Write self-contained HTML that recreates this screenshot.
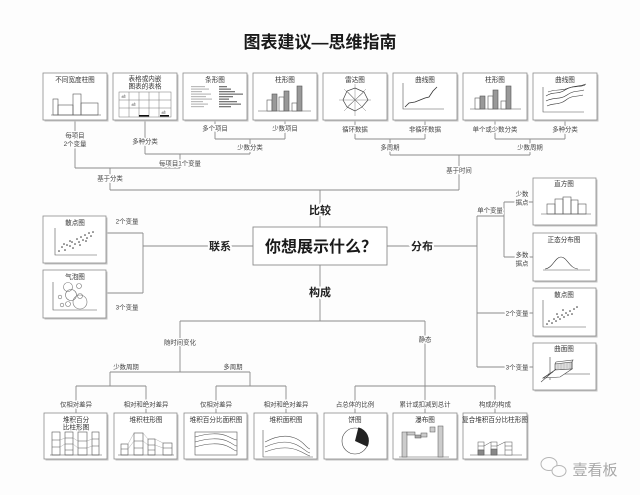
<!DOCTYPE html>
<html><head><meta charset="utf-8"><style>
html,body{margin:0;padding:0;background:#fdfdfd;}
svg{display:block;}
text{font-family:"Liberation Sans","Noto Sans CJK SC",sans-serif;}
.t{font-size:6.6px;fill:#333;text-anchor:middle;}
.l{font-size:6.4px;fill:#444;text-anchor:middle;paint-order:stroke;stroke:#fdfdfd;stroke-width:3px;stroke-linejoin:round;}
.c{font-size:11px;font-weight:bold;fill:#222;text-anchor:middle;paint-order:stroke;stroke:#fdfdfd;stroke-width:4px;}
.ln{stroke:#8a8a8a;stroke-width:0.9;fill:none;}
.ch{stroke:#555;stroke-width:0.6;fill:none;}
.bx{fill:#fff;stroke:#8c8c8c;stroke-width:0.8;}
.sh{fill:#c4c4c4;}
</style></head><body>
<svg width="640" height="495" viewBox="0 0 640 495" xmlns="http://www.w3.org/2000/svg">
<rect width="640" height="495" fill="#fdfdfd"/>
<text x="320" y="48" text-anchor="middle" style="font-size:17px;font-weight:bold;fill:#1a1a1a;">图表建议—思维指南</text>

<!-- ===== connector lines ===== -->
<g class="ln">
<!-- top left tree -->
<path d="M75,120V168 M145,120V154 M215,120V139 M285,120V139 M215,139H285 M250,139V154 M145,154H250 M180,154V168 M75,168H180 M110,168V190 M110,190H459"/>
<!-- top right tree -->
<path d="M355,120V139 M425,120V139 M355,139H425 M390,139V155 M495,120V139 M565,120V139 M495,139H565 M530,139V155 M390,155H530 M459,155V190"/>
<!-- center -->
<path d="M320,190V227 M143,246H253 M143,233V293 M106,233H143 M106,293H143 M387,246H477 M477,216V367 M477,216H504 M504,202V257 M504,202H533 M504,257H533 M477,313H533 M477,367H533"/>
<!-- bottom -->
<path d="M320,265V321 M180,321H425 M180,321V372 M425,321V386 M110,372H250 M110,372V386 M250,372V386 M76,386H146 M216,386H286 M76,386V413 M146,386V413 M216,386V413 M286,386V413 M355,386H495 M355,386V413 M425,386V413 M495,386V413"/>
</g>

<!-- ===== top boxes ===== -->
<g>
<rect class="sh" x="44.5" y="74.5" width="64" height="47"/><rect class="bx" x="43" y="73" width="64" height="47"/>
<rect class="sh" x="114.5" y="74.5" width="64" height="47"/><rect class="bx" x="113" y="73" width="64" height="47"/>
<rect class="sh" x="184.5" y="74.5" width="64" height="47"/><rect class="bx" x="183" y="73" width="64" height="47"/>
<rect class="sh" x="254.5" y="74.5" width="64" height="47"/><rect class="bx" x="253" y="73" width="64" height="47"/>
<rect class="sh" x="324.5" y="74.5" width="64" height="47"/><rect class="bx" x="323" y="73" width="64" height="47"/>
<rect class="sh" x="394.5" y="74.5" width="64" height="47"/><rect class="bx" x="393" y="73" width="64" height="47"/>
<rect class="sh" x="464.5" y="74.5" width="64" height="47"/><rect class="bx" x="463" y="73" width="64" height="47"/>
<rect class="sh" x="534.5" y="74.5" width="64" height="47"/><rect class="bx" x="533" y="73" width="64" height="47"/>
</g>
<text class="t" x="75" y="82">不同宽度柱图</text>
<text class="t" x="145" y="81">表格或内嵌</text><text class="t" x="145" y="88.5">图表的表格</text>
<text class="t" x="215" y="82">条形图</text>
<text class="t" x="285" y="82">柱形图</text>
<text class="t" x="355" y="82">雷达图</text>
<text class="t" x="425" y="82">曲线图</text>
<text class="t" x="495" y="82">柱形图</text>
<text class="t" x="565" y="82">曲线图</text>

<!-- box1 variable width -->
<g class="ch"><path d="M51,115H101"/><rect x="53" y="99" width="5" height="16"/><rect x="58" y="105" width="15" height="10"/><rect x="73" y="94" width="8" height="21"/><rect x="81" y="103" width="17" height="12"/></g>
<!-- box2 table -->
<g class="ch" style="stroke:#777;stroke-width:0.5">
<rect x="119" y="92" width="52" height="25"/>
<path d="M129,92V117 M139,92V117 M149,92V117 M159,92V117 M119,100H171 M119,108H171"/>
<path d="M122,98V96H123V98 M124,98V95H125V98 M132,106V104H133V106 M134,106V103H135V106 M162,114V112H163V114 M164,114V111H165V114"/>
</g>
<rect x="139" y="115" width="10" height="1.6" fill="#111"/><rect x="160" y="115" width="9" height="1.6" fill="#111"/>
<!-- box3 bar -->
<g fill="#bbb">
<rect x="191" y="86" width="14" height="1.2"/><rect x="191" y="88.5" width="18" height="1.2"/><rect x="191" y="91" width="11" height="1.2"/><rect x="191" y="93.5" width="20" height="1.2"/><rect x="191" y="96" width="15" height="1.2"/><rect x="191" y="98.5" width="21" height="1.2"/><rect x="191" y="101" width="12" height="1.2"/><rect x="191" y="103.5" width="17" height="1.2"/><rect x="191" y="106" width="13" height="1.2"/>
</g>
<g fill="#777">
<rect x="219" y="86" width="8" height="1.3"/><rect x="219" y="88.5" width="12" height="1.3"/><rect x="219" y="91" width="16" height="1.3"/><rect x="219" y="93.5" width="24" height="1.3"/><rect x="219" y="96" width="14" height="1.3"/><rect x="219" y="98.5" width="10" height="1.3"/><rect x="219" y="101" width="18" height="1.3"/><rect x="219" y="103.5" width="22" height="1.3"/><rect x="219" y="106" width="12" height="1.3"/>
</g>
<!-- box4 column -->
<g class="ch"><path d="M258,111H311"/>
<rect x="267" y="100" width="5" height="11" fill="#fff"/><rect x="272" y="94" width="5" height="17" fill="#999"/>
<rect x="279" y="97" width="5" height="14" fill="#fff"/><rect x="284" y="91" width="5" height="20" fill="#999"/>
<rect x="292" y="103" width="5" height="8" fill="#fff"/><rect x="297" y="86" width="5" height="25" fill="#999"/></g>
<!-- box5 radar -->
<g class="ch" style="stroke:#888;stroke-width:0.5"><path d="M355,84V116 M339,100H371 M344,89L366,111 M366,89L344,111"/></g>
<polygon class="ch" points="355,88 364,92 368,100 362,107 355,111 347,107 343,100 347,91" style="stroke:#444;stroke-width:0.7"/>
<path class="ch" d="M347,91L362,107 M364,92L347,107" style="stroke:#666;stroke-width:0.5"/>
<!-- box6 line -->
<g class="ch"><path d="M403,83V109H444"/><path d="M405,107L409,103L415,102L420,100L425,98L429,97L433,91L437,87" style="stroke:#333;stroke-width:0.8"/></g>
<!-- box7 column -->
<g class="ch"><path d="M470,109H521"/>
<rect x="475" y="98" width="5" height="11" fill="#fff"/><rect x="480" y="96" width="5" height="13" fill="#999"/>
<rect x="488" y="96" width="5" height="13" fill="#fff"/><rect x="493" y="90" width="5" height="19" fill="#999"/>
<rect x="501" y="101" width="5" height="8" fill="#fff"/><rect x="506" y="86" width="5" height="23" fill="#999"/></g>
<!-- box8 multi line -->
<g class="ch"><path d="M543,87V112H584"/>
<path d="M546,96C553,91 558,95 565,90S578,88 585,85" style="stroke:#333"/>
<path d="M546,101C553,97 560,100 567,95S578,92 584,90" style="stroke:#333"/>
<path d="M547,106C553,103 560,105 566,100S577,97 583,95" style="stroke:#333"/>
<path d="M548,92C555,89 562,91 569,88S579,87 586,84" style="stroke:#333"/></g>

<!-- top labels -->
<text class="l" x="75" y="137.5">每项目</text><text class="l" x="75" y="146">2个变量</text>
<text class="l" x="145" y="143.5">多种分类</text>
<text class="l" x="215" y="130.5">多个项目</text>
<text class="l" x="285" y="130.5">少数项目</text>
<text class="l" x="250" y="149.5">少数分类</text>
<text class="l" x="180" y="165.5">每项目1个变量</text>
<text class="l" x="110" y="180.5">基于分类</text>
<text class="l" x="355" y="131.5">循环数据</text>
<text class="l" x="425" y="131.5">非循环数据</text>
<text class="l" x="390" y="149.5">多周期</text>
<text class="l" x="495" y="131.5">单个或少数分类</text>
<text class="l" x="565" y="131.5">多种分类</text>
<text class="l" x="530" y="149.5">少数周期</text>
<text class="l" x="459" y="172.5">基于时间</text>

<!-- center -->
<rect x="253" y="227" width="134" height="38" fill="#fff" stroke="#8c8c8c" stroke-width="0.9"/>
<text x="321" y="252" text-anchor="middle" style="font-size:16px;font-weight:bold;fill:#1a1a1a;">你想展示什么？</text>
<text class="c" x="320" y="214">比较</text>
<text class="c" x="220" y="250">联系</text>
<text class="c" x="422" y="250">分布</text>
<text class="c" x="320" y="296">构成</text>

<!-- left boxes -->
<rect class="sh" x="44.5" y="217.5" width="63" height="47"/><rect class="bx" x="43" y="216" width="63" height="47"/>
<rect class="sh" x="44.5" y="271.5" width="63" height="48"/><rect class="bx" x="43" y="270" width="63" height="48"/>
<text class="t" x="75" y="225">散点图</text>
<text class="t" x="75" y="279">气泡图</text>
<g class="ch"><path d="M55,228V255H97"/><path d="M53,282V310H97"/></g>
<g fill="#333">
<circle cx="59" cy="251" r="0.8"/><circle cx="62" cy="247" r="0.8"/><circle cx="65" cy="250" r="0.8"/><circle cx="67" cy="245" r="0.8"/><circle cx="70" cy="246" r="0.8"/><circle cx="72" cy="242" r="0.8"/><circle cx="75" cy="244" r="0.8"/><circle cx="77" cy="239" r="0.8"/><circle cx="79" cy="242" r="0.8"/><circle cx="81" cy="237" r="0.8"/><circle cx="83" cy="240" r="0.8"/><circle cx="85" cy="235" r="0.8"/><circle cx="87" cy="238" r="0.8"/><circle cx="89" cy="233" r="0.8"/><circle cx="91" cy="236" r="0.8"/><circle cx="64" cy="244" r="0.8"/><circle cx="73" cy="248" r="0.8"/><circle cx="80" cy="245" r="0.8"/><circle cx="86" cy="241" r="0.8"/><circle cx="93" cy="232" r="0.8"/><circle cx="70" cy="241" r="0.8"/>
</g>
<g class="ch" style="stroke:#777;stroke-width:0.6">
<circle cx="68" cy="287" r="4.5"/><circle cx="79" cy="286" r="2.5"/><circle cx="71" cy="295" r="5.5"/><circle cx="80" cy="296" r="2.5"/><circle cx="60" cy="297" r="1.8"/><circle cx="68" cy="304" r="2.5"/><circle cx="62" cy="305" r="1.8"/><circle cx="80" cy="302" r="7"/>
</g>
<text class="l" x="127" y="223.5">2个变量</text>
<text class="l" x="127" y="309.5">3个变量</text>

<!-- right boxes -->
<rect class="sh" x="534.5" y="179.5" width="63" height="47"/><rect class="bx" x="533" y="178" width="63" height="47"/>
<rect class="sh" x="534.5" y="234.5" width="63" height="48"/><rect class="bx" x="533" y="233" width="63" height="48"/>
<rect class="sh" x="534.5" y="289.5" width="63" height="48"/><rect class="bx" x="533" y="288" width="63" height="48"/>
<rect class="sh" x="534.5" y="344.5" width="63" height="47"/><rect class="bx" x="533" y="343" width="63" height="47"/>
<text class="t" x="564" y="186">直方图</text>
<text class="t" x="564" y="242">正态分布图</text>
<text class="t" x="564" y="297">散点图</text>
<text class="t" x="564" y="351">曲面图</text>
<g class="ch"><path d="M541,214H591"/>
<rect x="547" y="204" width="8" height="10"/><rect x="555" y="199" width="8" height="15"/><rect x="563" y="197" width="8" height="17"/><rect x="571" y="200" width="7" height="14"/><rect x="578" y="204" width="8" height="10"/>
<path d="M543,270H590"/><path d="M545,269C553,268 555,257 561,257S569,268 578,269" style="stroke:#333"/>
<path d="M543,300V327H586"/></g>
<g fill="#333">
<circle cx="547" cy="324" r="0.8"/><circle cx="549" cy="321" r="0.8"/><circle cx="552" cy="323" r="0.8"/><circle cx="554" cy="319" r="0.8"/><circle cx="556" cy="321" r="0.8"/><circle cx="558" cy="317" r="0.8"/><circle cx="560" cy="319" r="0.8"/><circle cx="562" cy="315" r="0.8"/><circle cx="564" cy="317" r="0.8"/><circle cx="566" cy="313" r="0.8"/><circle cx="568" cy="315" r="0.8"/><circle cx="570" cy="311" r="0.8"/><circle cx="572" cy="314" r="0.8"/><circle cx="574" cy="309" r="0.8"/><circle cx="577" cy="307" r="0.8"/><circle cx="563" cy="310" r="0.8"/><circle cx="557" cy="314" r="0.8"/>
</g>
<!-- surface -->
<g class="ch" style="stroke:#444;stroke-width:0.6">
<path d="M550,357V380"/><path d="M548,374H590"/>
<polygon points="555,364 572,362 572,369 555,370" fill="#ddd"/>
<path d="M555,364L556,362L573,360L572,362 M572,362V369"/>
<polygon points="555,370 572,369 560,377 543,378" fill="#fff"/>
<path d="M541,382L556,369 M543,378L553,372"/>
<path d="M558,364V370 M561,364V369 M564,363V369 M567,363V369 M570,362V369" style="stroke:#999;stroke-width:0.4"/>
</g>
<text class="l" x="490" y="212.5">单个变量</text>
<text class="l" x="522" y="196">少数</text><text class="l" x="522" y="204.5">据点</text>
<text class="l" x="522" y="257">多数</text><text class="l" x="522" y="265.5">据点</text>
<text class="l" x="517" y="315.5">2个变量</text>
<text class="l" x="517" y="369.5">3个变量</text>

<!-- bottom labels -->
<text class="l" x="180" y="344.5">随时间变化</text>
<text class="l" x="425" y="341.5">静态</text>
<text class="t" x="126" y="369" style="font-size:6.4px;fill:#444">少数周期</text>
<text class="t" x="233" y="369" style="font-size:6.4px;fill:#444">多周期</text>
<text class="l" x="76" y="406.5">仅相对差异</text>
<text class="l" x="146" y="406.5">相对和绝对差异</text>
<text class="l" x="216" y="406.5">仅相对差异</text>
<text class="l" x="286" y="406.5">相对和绝对差异</text>
<text class="l" x="355" y="406.5">占总体的比例</text>
<text class="l" x="425" y="406.5">累计或扣减到总计</text>
<text class="l" x="495" y="406.5">构成的构成</text>

<!-- bottom boxes -->
<g>
<rect class="sh" x="45.5" y="414.5" width="63" height="46"/><rect class="bx" x="44" y="413" width="63" height="46"/>
<rect class="sh" x="115.5" y="414.5" width="63" height="46"/><rect class="bx" x="114" y="413" width="63" height="46"/>
<rect class="sh" x="185.5" y="414.5" width="63" height="46"/><rect class="bx" x="184" y="413" width="63" height="46"/>
<rect class="sh" x="255.5" y="414.5" width="63" height="46"/><rect class="bx" x="254" y="413" width="63" height="46"/>
<rect class="sh" x="325.5" y="414.5" width="63" height="46"/><rect class="bx" x="324" y="413" width="63" height="46"/>
<rect class="sh" x="394.5" y="414.5" width="64" height="46"/><rect class="bx" x="393" y="413" width="64" height="46"/>
<rect class="sh" x="464.5" y="414.5" width="64" height="46"/><rect class="bx" x="463" y="413" width="64" height="46"/>
</g>
<text class="t" x="76" y="422">堆积百分</text><text class="t" x="76" y="429.5">比柱形图</text>
<text class="t" x="146" y="422">堆积柱形图</text>
<text class="t" x="216" y="422">堆积百分比面积图</text>
<text class="t" x="286" y="422">堆积面积图</text>
<text class="t" x="355" y="422">饼图</text>
<text class="t" x="425" y="422">瀑布图</text>
<text class="t" x="495" y="422">复合堆积百分比柱形图</text>

<!-- b1 -->
<g class="ch"><path d="M50,455H102"/>
<rect x="52" y="432" width="8" height="23"/><rect x="65" y="432" width="8" height="23"/><rect x="78" y="432" width="9" height="23"/><rect x="92" y="432" width="7" height="23"/>
<path d="M52,440H60 M52,447H60 M65,438H73 M65,444H73 M65,450H73 M78,441H87 M78,448H87 M92,439H99 M92,446H99"/>
<path d="M60,440L65,438 M60,447L65,444 M73,438L78,441 M73,444L78,448 M87,441L92,439 M87,448L92,446" style="stroke:#999;stroke-width:0.4"/></g>
<!-- b2 -->
<g class="ch"><path d="M118,455H174"/>
<rect x="121" y="444" width="7" height="11"/><rect x="134" y="433" width="9" height="22"/><rect x="148" y="439" width="7" height="16"/><rect x="163" y="443" width="9" height="12"/>
<path d="M121,449H128 M134,441H143 M134,448H143 M148,445H155 M148,450H155 M163,448H172"/>
<path d="M128,444L134,433 M128,449L134,441 M143,433L148,439 M143,441L148,445 M155,439L163,443 M155,445L163,448" style="stroke:#999;stroke-width:0.4"/></g>
<!-- b3 -->
<g class="ch"><rect x="195" y="432" width="42" height="23"/>
<path d="M195,437C208,433 220,433 227,436S234,440 237,440"/>
<path d="M195,442C208,438 220,438 227,441S234,446 237,446"/>
<path d="M195,447C208,443 220,443 227,446S234,451 237,451"/></g>
<!-- b4 -->
<g class="ch"><path d="M263,430V457H313"/>
<path d="M265,442C278,435 289,435 297,439S306,448 310,449"/>
<path d="M265,447C278,441 289,441 297,445S306,452 310,453"/>
<path d="M265,452C278,447 289,447 297,450S306,455 310,456"/></g>
<!-- pie -->
<circle cx="355" cy="441" r="13" fill="#fff" stroke="#444" stroke-width="0.6"/>
<path d="M355,441L358.4,427.4A13.8,13.8 0 0 1 367.5,446.8Z" fill="#222"/>
<!-- waterfall -->
<g class="ch" style="stroke:#555;stroke-width:0.5"><path d="M399,457H449"/>
<rect x="402" y="432" width="5" height="25" fill="#ccc"/>
<rect x="407" y="432" width="8" height="3" fill="#ccc"/><rect x="415" y="435" width="6" height="3" fill="#aaa"/><rect x="421" y="433" width="6" height="4" fill="#ccc"/><rect x="430" y="427" width="5" height="5" fill="#ccc"/>
<rect x="438" y="426" width="5" height="31" fill="#ccc"/></g>
<!-- compound -->
<g class="ch" style="stroke:#555;stroke-width:0.5"><path d="M470,455H522"/>
<rect x="478" y="442" width="6" height="13" fill="#fff"/><path d="M478,446H484 M478,450H484"/><rect x="478" y="450" width="6" height="5" fill="#888"/>
<rect x="491" y="442" width="6" height="13" fill="#fff"/><path d="M491,446H497"/><rect x="491" y="449" width="6" height="6" fill="#888"/>
<rect x="505" y="442" width="7" height="13" fill="#fff"/><path d="M505,446H512 M505,450H512"/>
<path d="M484,446L491,442 M497,446L505,442"/></g>

<!-- watermark -->
<g fill="none" stroke="#b5b5b5" stroke-width="1">
<ellipse cx="549" cy="464" rx="8" ry="6.5"/>
<ellipse cx="559" cy="471" rx="7" ry="5.5" fill="#fdfdfd"/>
</g>
<text x="595" y="475" text-anchor="middle" style="font-size:15px;fill:#a8a8a8;">壹看板</text>
</svg>
</body></html>
